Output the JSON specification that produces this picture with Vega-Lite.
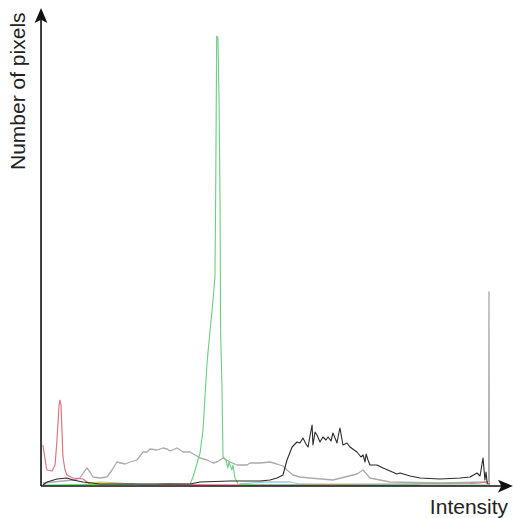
{
  "$schema": "https://vega.github.io/schema/vega-lite/v6.json",
  "width": 513,
  "height": 518,
  "autosize": "none",
  "padding": 0,
  "background": "white",
  "config": {"view": {"stroke": null}},
  "datasets": {
    "hist": [
      {"series": "gray", "intensity": 0, "count": 30},
      {"series": "gray", "intensity": 17.1, "count": 60},
      {"series": "gray", "intensity": 21.1, "count": 80},
      {"series": "gray", "intensity": 23.4, "count": 140},
      {"series": "gray", "intensity": 25.1, "count": 180},
      {"series": "gray", "intensity": 26.8, "count": 140},
      {"series": "gray", "intensity": 28.5, "count": 90},
      {"series": "gray", "intensity": 32.5, "count": 80},
      {"series": "gray", "intensity": 36.5, "count": 90},
      {"series": "gray", "intensity": 39.4, "count": 160},
      {"series": "gray", "intensity": 42.2, "count": 240},
      {"series": "gray", "intensity": 46.8, "count": 220},
      {"series": "gray", "intensity": 49.7, "count": 240},
      {"series": "gray", "intensity": 53.6, "count": 260},
      {"series": "gray", "intensity": 57.1, "count": 340},
      {"series": "gray", "intensity": 59.3, "count": 340},
      {"series": "gray", "intensity": 61.1, "count": 370},
      {"series": "gray", "intensity": 65.0, "count": 360},
      {"series": "gray", "intensity": 68.5, "count": 380},
      {"series": "gray", "intensity": 70.8, "count": 370},
      {"series": "gray", "intensity": 72.5, "count": 350},
      {"series": "gray", "intensity": 76.5, "count": 380},
      {"series": "gray", "intensity": 79.9, "count": 340},
      {"series": "gray", "intensity": 83.9, "count": 340},
      {"series": "gray", "intensity": 89.6, "count": 280},
      {"series": "gray", "intensity": 93.6, "count": 260},
      {"series": "gray", "intensity": 97.0, "count": 230},
      {"series": "gray", "intensity": 99.3, "count": 240},
      {"series": "gray", "intensity": 102.7, "count": 280},
      {"series": "gray", "intensity": 106.7, "count": 240},
      {"series": "gray", "intensity": 110.7, "count": 210},
      {"series": "gray", "intensity": 116.4, "count": 210},
      {"series": "gray", "intensity": 118.1, "count": 230},
      {"series": "gray", "intensity": 123.8, "count": 230},
      {"series": "gray", "intensity": 129.5, "count": 240},
      {"series": "gray", "intensity": 133.5, "count": 220},
      {"series": "gray", "intensity": 136.9, "count": 200},
      {"series": "gray", "intensity": 139.2, "count": 160},
      {"series": "gray", "intensity": 142.6, "count": 110},
      {"series": "gray", "intensity": 146.6, "count": 90},
      {"series": "gray", "intensity": 152.3, "count": 80},
      {"series": "gray", "intensity": 165.4, "count": 60},
      {"series": "gray", "intensity": 179.1, "count": 120},
      {"series": "gray", "intensity": 182.6, "count": 160},
      {"series": "gray", "intensity": 186.5, "count": 80},
      {"series": "gray", "intensity": 198.0, "count": 40},
      {"series": "gray", "intensity": 226.5, "count": 30},
      {"series": "gray", "intensity": 252.7, "count": 40},
      {"series": "gray", "intensity": 254.2, "count": 50},
      {"series": "gray", "intensity": 254.4, "count": 1940},
      {"series": "gray", "intensity": 254.6, "count": 0},

      {"series": "cyan", "intensity": 112.4, "count": 20},
      {"series": "cyan", "intensity": 125.5, "count": 40},
      {"series": "cyan", "intensity": 140.9, "count": 40},
      {"series": "cyan", "intensity": 146.6, "count": 20},
      {"series": "cyan", "intensity": 215.0, "count": 10},

      {"series": "yellow", "intensity": 24.0, "count": 30},
      {"series": "yellow", "intensity": 32.5, "count": 40},
      {"series": "yellow", "intensity": 44.0, "count": 30},
      {"series": "yellow", "intensity": 52.5, "count": 20},

      {"series": "red", "intensity": 0, "count": 410},
      {"series": "red", "intensity": 1.7, "count": 210},
      {"series": "red", "intensity": 2.3, "count": 160},
      {"series": "red", "intensity": 5.2, "count": 150},
      {"series": "red", "intensity": 6.9, "count": 210},
      {"series": "red", "intensity": 8.0, "count": 460},
      {"series": "red", "intensity": 9.2, "count": 810},
      {"series": "red", "intensity": 9.7, "count": 860},
      {"series": "red", "intensity": 10.3, "count": 810},
      {"series": "red", "intensity": 11.4, "count": 290},
      {"series": "red", "intensity": 12.6, "count": 160},
      {"series": "red", "intensity": 13.7, "count": 110},
      {"series": "red", "intensity": 17.1, "count": 80},
      {"series": "red", "intensity": 22.8, "count": 70},
      {"series": "red", "intensity": 26.8, "count": 20},
      {"series": "red", "intensity": 120.0, "count": 10},
      {"series": "red", "intensity": 243.6, "count": 25},
      {"series": "red", "intensity": 249.3, "count": 30},
      {"series": "red", "intensity": 252.1, "count": 40},
      {"series": "red", "intensity": 253.9, "count": 20},
      {"series": "red", "intensity": 255, "count": 30},

      {"series": "green", "intensity": 0, "count": 10},
      {"series": "green", "intensity": 49.7, "count": 20},
      {"series": "green", "intensity": 60.0, "count": 10},
      {"series": "green", "intensity": 70.0, "count": 25},
      {"series": "green", "intensity": 83.9, "count": 20},
      {"series": "green", "intensity": 85.6, "count": 90},
      {"series": "green", "intensity": 89.6, "count": 330},
      {"series": "green", "intensity": 91.3, "count": 560},
      {"series": "green", "intensity": 92.4, "count": 890},
      {"series": "green", "intensity": 93.6, "count": 1230},
      {"series": "green", "intensity": 94.1, "count": 1330},
      {"series": "green", "intensity": 97.0, "count": 1860},
      {"series": "green", "intensity": 98.1, "count": 2090},
      {"series": "green", "intensity": 98.5, "count": 2860},
      {"series": "green", "intensity": 99.1, "count": 4500},
      {"series": "green", "intensity": 99.8, "count": 4480},
      {"series": "green", "intensity": 100.4, "count": 3900},
      {"series": "green", "intensity": 101.0, "count": 2860},
      {"series": "green", "intensity": 101.3, "count": 1560},
      {"series": "green", "intensity": 102.1, "count": 1000},
      {"series": "green", "intensity": 102.7, "count": 290},
      {"series": "green", "intensity": 104.4, "count": 260},
      {"series": "green", "intensity": 105.5, "count": 180},
      {"series": "green", "intensity": 106.1, "count": 240},
      {"series": "green", "intensity": 107.8, "count": 160},
      {"series": "green", "intensity": 108.4, "count": 210},
      {"series": "green", "intensity": 109.5, "count": 80},
      {"series": "green", "intensity": 111.3, "count": 20},
      {"series": "green", "intensity": 123.8, "count": 10},
      {"series": "green", "intensity": 255, "count": 10},

      {"series": "black", "intensity": 0, "count": 10},
      {"series": "black", "intensity": 2.3, "count": 40},
      {"series": "black", "intensity": 8.0, "count": 70},
      {"series": "black", "intensity": 13.7, "count": 80},
      {"series": "black", "intensity": 17.1, "count": 60},
      {"series": "black", "intensity": 22.8, "count": 40},
      {"series": "black", "intensity": 32.5, "count": 20},
      {"series": "black", "intensity": 83.9, "count": 20},
      {"series": "black", "intensity": 89.6, "count": 40},
      {"series": "black", "intensity": 106.7, "count": 50},
      {"series": "black", "intensity": 123.8, "count": 50},
      {"series": "black", "intensity": 129.5, "count": 60},
      {"series": "black", "intensity": 133.5, "count": 80},
      {"series": "black", "intensity": 136.9, "count": 110},
      {"series": "black", "intensity": 139.2, "count": 260},
      {"series": "black", "intensity": 142.1, "count": 390},
      {"series": "black", "intensity": 144.9, "count": 440},
      {"series": "black", "intensity": 146.6, "count": 430},
      {"series": "black", "intensity": 148.3, "count": 480},
      {"series": "black", "intensity": 150.0, "count": 420},
      {"series": "black", "intensity": 151.2, "count": 390},
      {"series": "black", "intensity": 152.3, "count": 500},
      {"series": "black", "intensity": 153.5, "count": 610},
      {"series": "black", "intensity": 154.0, "count": 410},
      {"series": "black", "intensity": 155.2, "count": 540},
      {"series": "black", "intensity": 156.3, "count": 510},
      {"series": "black", "intensity": 158.0, "count": 440},
      {"series": "black", "intensity": 159.7, "count": 490},
      {"series": "black", "intensity": 161.4, "count": 460},
      {"series": "black", "intensity": 162.6, "count": 490},
      {"series": "black", "intensity": 164.3, "count": 450},
      {"series": "black", "intensity": 165.4, "count": 530},
      {"series": "black", "intensity": 166.6, "count": 480},
      {"series": "black", "intensity": 167.7, "count": 430},
      {"series": "black", "intensity": 168.9, "count": 540},
      {"series": "black", "intensity": 169.4, "count": 580},
      {"series": "black", "intensity": 170.6, "count": 460},
      {"series": "black", "intensity": 171.1, "count": 410},
      {"series": "black", "intensity": 173.4, "count": 430},
      {"series": "black", "intensity": 175.1, "count": 390},
      {"series": "black", "intensity": 179.1, "count": 340},
      {"series": "black", "intensity": 181.4, "count": 290},
      {"series": "black", "intensity": 182.6, "count": 310},
      {"series": "black", "intensity": 183.7, "count": 240},
      {"series": "black", "intensity": 184.3, "count": 320},
      {"series": "black", "intensity": 185.4, "count": 260},
      {"series": "black", "intensity": 186.5, "count": 210},
      {"series": "black", "intensity": 190.5, "count": 210},
      {"series": "black", "intensity": 194.0, "count": 180},
      {"series": "black", "intensity": 198.0, "count": 150},
      {"series": "black", "intensity": 201.9, "count": 120},
      {"series": "black", "intensity": 203.7, "count": 130},
      {"series": "black", "intensity": 209.4, "count": 100},
      {"series": "black", "intensity": 215.1, "count": 80},
      {"series": "black", "intensity": 226.5, "count": 70},
      {"series": "black", "intensity": 237.9, "count": 80},
      {"series": "black", "intensity": 243.6, "count": 90},
      {"series": "black", "intensity": 247.6, "count": 130},
      {"series": "black", "intensity": 249.3, "count": 100},
      {"series": "black", "intensity": 251.0, "count": 280},
      {"series": "black", "intensity": 251.6, "count": 160},
      {"series": "black", "intensity": 252.1, "count": 60},
      {"series": "black", "intensity": 252.7, "count": 140},
      {"series": "black", "intensity": 253.3, "count": 40},
      {"series": "black", "intensity": 253.9, "count": 20}
    ],
    "axes": [
      {"x1": -1.1, "y1": 0, "x2": -1.1, "y2": 4660},
      {"x1": -1.1, "y1": 0, "x2": 262, "y2": 0}
    ],
    "arrows": [
      {"dir": "up", "x": -1.1, "y": 4705},
      {"dir": "right", "x": 263.8, "y": 0}
    ],
    "xlabel": [{"text": "Intensity", "x": 265.3, "y": -280}],
    "ylabel": [{"text": "Number of pixels", "x": -10.2, "y": 3160}]
  },
  "layer": [
    {
      "data": {"name": "hist"},
      "mark": {"type": "line", "strokeJoin": "round", "interpolate": "linear"},
      "encoding": {
        "x": {"field": "intensity", "type": "quantitative", "scale": {"domain": [-24.5, 268.1], "nice": false, "zero": false}, "axis": null},
        "y": {"field": "count", "type": "quantitative", "scale": {"domain": [-320, 4860], "nice": false, "zero": false}, "axis": null},
        "color": {"field": "series", "type": "nominal", "legend": null,
          "scale": {"domain": ["gray", "cyan", "yellow", "red", "green", "black"],
                    "range": ["#ababab", "#8fd3e0", "#cfc35a", "#e2717f", "#6fcf84", "#2b2b2b"]}},
        "strokeWidth": {"field": "series", "type": "nominal", "legend": null,
          "scale": {"domain": ["gray", "cyan", "yellow", "red", "green", "black"],
                    "range": [1.3, 1.1, 1.1, 1.3, 1.3, 1.5]}}
      }
    },
    {
      "data": {"name": "axes"},
      "mark": {"type": "rule", "color": "#111111", "strokeWidth": 1.6},
      "encoding": {
        "x": {"field": "x1", "type": "quantitative"},
        "y": {"field": "y1", "type": "quantitative"},
        "x2": {"field": "x2"},
        "y2": {"field": "y2"}
      }
    },
    {
      "data": {"name": "arrows"},
      "mark": {"type": "point", "filled": true, "size": 225, "color": "#111111", "opacity": 1},
      "encoding": {
        "x": {"field": "x", "type": "quantitative"},
        "y": {"field": "y", "type": "quantitative"},
        "shape": {"field": "dir", "type": "nominal", "legend": null,
          "scale": {"domain": ["up", "right"],
                    "range": ["M0,-1L0.85,1L0,0.55L-0.85,1Z", "M1,0L-1,0.85L-0.55,0L-1,-0.85Z"]}}
      }
    },
    {
      "data": {"name": "xlabel"},
      "mark": {"type": "text", "align": "right", "baseline": "alphabetic", "font": "Liberation Sans", "fontSize": 21, "color": "#222222"},
      "encoding": {
        "x": {"field": "x", "type": "quantitative"},
        "y": {"field": "y", "type": "quantitative"},
        "text": {"field": "text"}
      }
    },
    {
      "data": {"name": "ylabel"},
      "mark": {"type": "text", "align": "left", "baseline": "alphabetic", "angle": 270, "font": "Liberation Sans", "fontSize": 21, "color": "#222222"},
      "encoding": {
        "x": {"field": "x", "type": "quantitative"},
        "y": {"field": "y", "type": "quantitative"},
        "text": {"field": "text"}
      }
    }
  ]
}
